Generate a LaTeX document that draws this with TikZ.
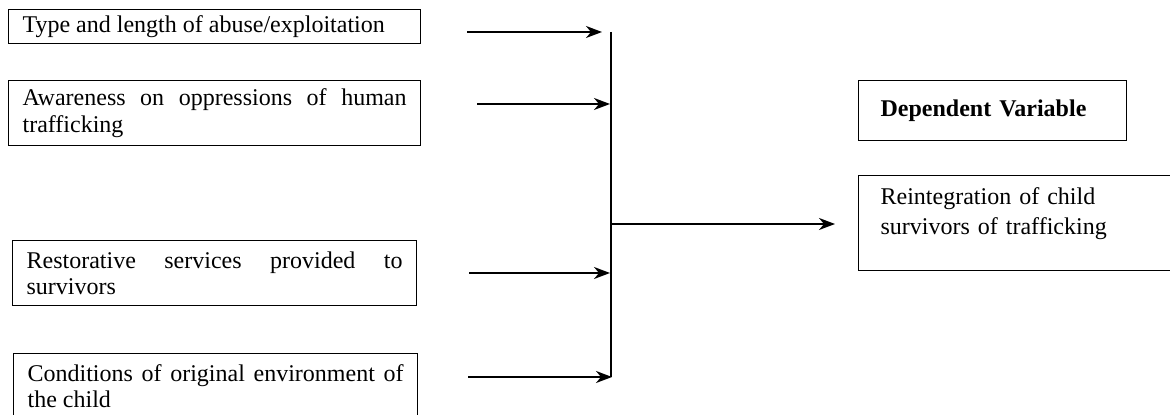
\documentclass[tikz,border=0pt]{standalone}
\usepackage{fontspec}
\setmainfont{Liberation Serif}
\usetikzlibrary{arrows.meta}

\begin{document}
\begin{tikzpicture}[x=0.5pt, y=-0.5pt,
  varbox/.style={draw, line width=0.6pt, anchor=north west, inner ysep=0pt,
    inner xsep=7pt, align=justify, minimum height=32.5pt,
    font=\fontsize{12}{13.2}\selectfont},
  depbox/.style={draw, line width=0.6pt, anchor=north west, inner xsep=11pt,
    align=left, font=\fontsize{12}{15}\selectfont},
  link/.style={line width=0.9pt},
  feed/.style={link, -{Stealth[length=8pt, width=6pt, inset=2.5pt]}}]

\useasboundingbox (0,0) rectangle (1170,415);
\clip (0,0) rectangle (1170,415);

% independent variables
\node[varbox, text width=192pt, minimum height=17pt] (v1) at (8,9)
  {Type and length of abuse/exploitation};
\node[varbox, text width=192pt] (v2) at (8,80)
  {Awareness on oppressions of human\linebreak trafficking};
\node[varbox, text width=188pt] (v3) at (12,240)
  {Restorative services provided to\linebreak survivors};
\node[varbox, text width=188pt] (v4) at (13,353)
  {Conditions of original environment of\linebreak the child};

% dependent variable
\node[depbox, text width=112pt, minimum height=30pt] (dvh) at (858,80)
  {\textbf{Dependent Variable}};
\node[depbox, text width=139pt, inner ysep=4pt] (dv) at (858,175)
  {\strut Reintegration of child\\survivors of trafficking\rule[-14pt]{0pt}{14pt}};

% connector ends
\coordinate (s1) at (467,32);   \coordinate (e1) at (602,32);
\coordinate (s2) at (477,104);  \coordinate (e2) at (610,104);
\coordinate (s3) at (469,273);  \coordinate (e3) at (610,273);
\coordinate (s4) at (468,377);  \coordinate (e4) at (612,377);
\coordinate (jtop) at (611,32);
\coordinate (jbot) at (611,377);
\coordinate (jmid) at (611,224);
\coordinate (tip) at (835,224);

% arrows into the junction
\draw[feed] (s1) -- (e1);
\draw[feed] (s2) -- (e2);
\draw[feed] (s3) -- (e3);
\draw[feed] (s4) -- (e4);

% junction bar and outgoing arrow
\draw[link] (jtop) -- (jbot);
\draw[feed] (jmid) -- (tip);
\end{tikzpicture}
\end{document}
